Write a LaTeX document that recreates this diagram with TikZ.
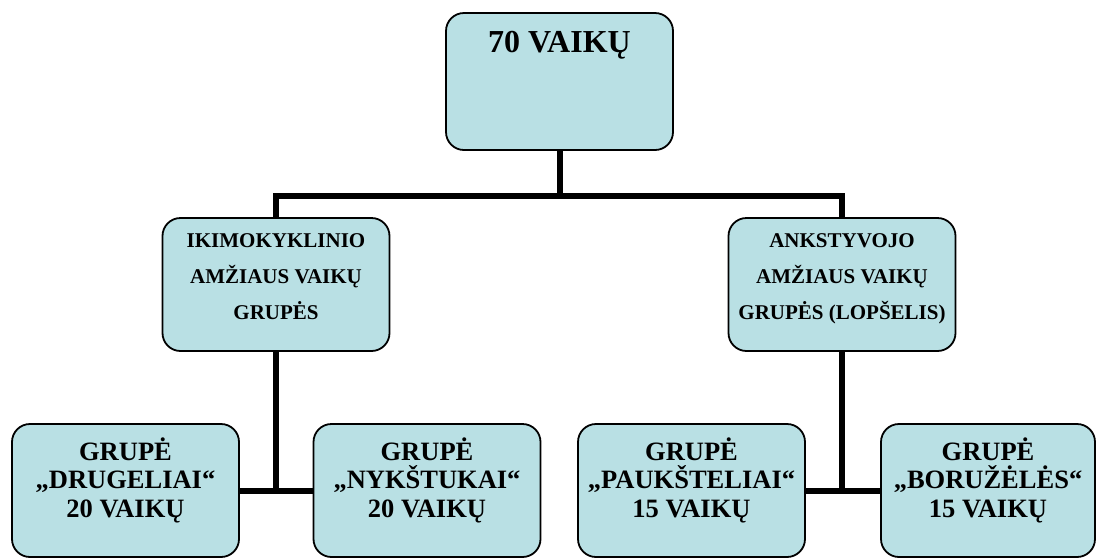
\documentclass[tikz,border=0pt]{standalone}
\usepackage{fontspec}
\setmainfont{Liberation Serif}
\usetikzlibrary{calc}
\definecolor{boxfill}{RGB}{185,224,228}
\tikzset{
  box/.style={draw=black, line width=1.8pt, fill=boxfill, rounded corners=18pt,
    minimum width=227pt, minimum height=133pt, inner sep=0pt},
  conn/.style={draw=black, line width=6pt, line join=miter},
  bigtxt/.style={font=\bfseries\fontsize{32}{38}\selectfont, inner sep=0pt},
  midtxt/.style={font=\bfseries\fontsize{21}{36}\selectfont, align=center, inner sep=0pt},
  lowtxt/.style={font=\bfseries\fontsize{26.5}{28.5}\selectfont, align=center, inner sep=0pt}
}
\begin{document}
\begin{tikzpicture}[x=1pt, y=-1pt]
\useasboundingbox (0,0) rectangle (1097,558);
\clip (0,0) rectangle (1097,558);
% boxes
\node[box, minimum height=137pt] (b0) at (559.5,81.5) {};
\node[box] (b1) at (276,284.5) {};
\node[box] (b2) at (842,284.5) {};
\node[box] (b3) at (125.5,490.5) {};
\node[box] (b4) at (427,490.5) {};
\node[box] (b5) at (691.5,490.5) {};
\node[box, minimum width=214pt] (b6) at (988,490.5) {};
% connectors
\coordinate (j0) at (559.5,195.5);
\draw[conn] (b0.south) -- (j0);
\draw[conn] (b1.north) |- (j0) -| (b2.north);
\draw[conn] (b1.south) -- (b1.south |- b3.east);
\draw[conn] (b3.east) -- (b4.west);
\draw[conn] (b2.south) -- (b2.south |- b5.east);
\draw[conn] (b5.east) -- (b6.west);
% texts
\node[bigtxt, anchor=base] (t0) at ($(b0.north)+(0,40)$) {70 VAIKŲ};
\node[midtxt] (t1) at ($(b1.center)+(0,-7.6)$) {IKIMOKYKLINIO\\AMŽIAUS VAIKŲ\\GRUPĖS};
\node[midtxt] (t2) at ($(b2.center)+(0,-6)$) {ANKSTYVOJO\\AMŽIAUS VAIKŲ\\GRUPĖS (LOPŠELIS)};
\node[lowtxt] (t3) at ($(b3.center)+(0,-10.5)$) {GRUPĖ\\„DRUGELIAI“\\20 VAIKŲ};
\node[lowtxt] (t4) at ($(b4.center)+(0,-10.5)$) {GRUPĖ\\„NYKŠTUKAI“\\20 VAIKŲ};
\node[lowtxt] (t5) at ($(b5.center)+(0,-10.5)$) {GRUPĖ\\„PAUKŠTELIAI“\\15 VAIKŲ};
\node[lowtxt] (t6) at ($(b6.center)+(0,-10.5)$) {GRUPĖ\\„BORUŽĖLĖS“\\15 VAIKŲ};
\end{tikzpicture}
\end{document}
